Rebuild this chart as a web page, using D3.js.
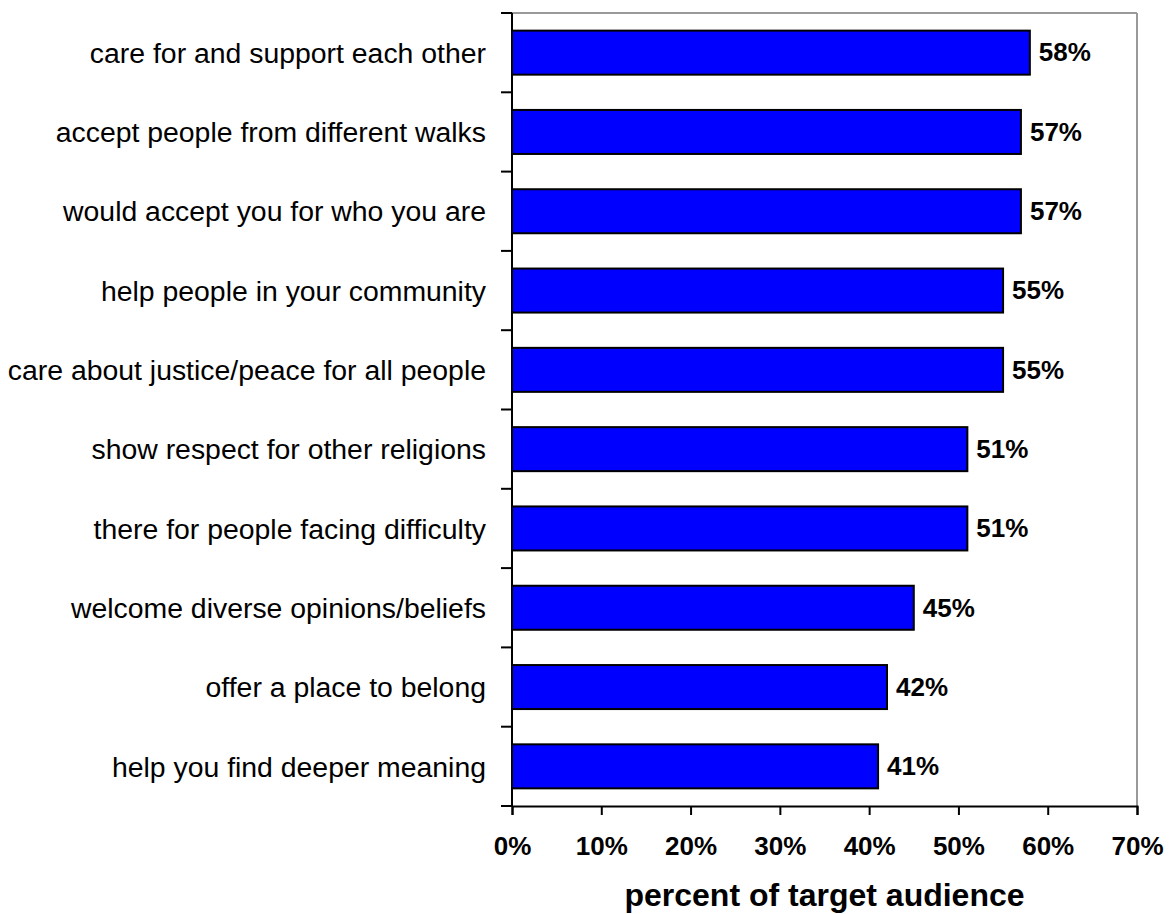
<!DOCTYPE html>
<html>
<head>
<meta charset="utf-8">
<script src="https://cdn.jsdelivr.net/npm/d3@7/dist/d3.min.js"></script>
<style>
  html, body { margin: 0; padding: 0; background: #fff; }
  svg { display: block; }
</style>
</head>
<body>
<svg id="chart" width="1172" height="914"></svg>
<script>
// Survey items, top to bottom
const categories = [
  "care for and support each other",
  "accept people from different walks",
  "would accept you for who you are",
  "help people in your community",
  "care about justice/peace for all people",
  "show respect for other religions",
  "there for people facing difficulty",
  "welcome diverse opinions/beliefs",
  "offer a place to belong",
  "help you find deeper meaning"
];
// Share of the target audience (percent)
const values = [58, 57, 57, 55, 55, 51, 51, 45, 42, 41];
const xTicks = [0, 10, 20, 30, 40, 50, 60, 70];
const axisTitle = "percent of target audience";

const FONT = "'Liberation Sans', Arial, sans-serif";
const svg = d3.select("#chart");
const plotL = 512, plotR = 1137, plotT = 13, plotB = 806;

const x = d3.scaleLinear().domain([0, 70]).range([plotL, plotR]);
const y = d3.scaleBand().domain(categories).range([plotT, plotB]).paddingInner(0.445).paddingOuter(0.2225);

// plot frame: grey top and right edges
svg.append("line").attr("x1", plotL).attr("x2", plotR).attr("y1", plotT).attr("y2", plotT)
  .attr("stroke", "#999").attr("stroke-width", 2);
svg.append("line").attr("x1", plotR).attr("x2", plotR).attr("y1", plotT).attr("y2", plotB)
  .attr("stroke", "#999").attr("stroke-width", 2);

// bars
svg.append("g").selectAll("rect").data(categories).join("rect")
  .attr("x", x(0))
  .attr("y", d => y(d))
  .attr("width", (d, i) => x(values[i]) - x(0))
  .attr("height", y.bandwidth())
  .attr("fill", "#0000ff")
  .attr("stroke", "#000")
  .attr("stroke-width", 2);

// value labels
svg.append("g").selectAll("text").data(categories).join("text")
  .attr("x", (d, i) => x(values[i]) + 9)
  .attr("y", d => y(d) + y.bandwidth() / 2)
  .attr("dy", "0.34em")
  .attr("font-family", FONT)
  .attr("font-weight", "bold")
  .attr("font-size", 26)
  .attr("fill", "#000")
  .text((d, i) => values[i] + "%");

// left axis: ticks at band boundaries
const boundaries = d3.range(categories.length + 1).map(i => plotT + i * (plotB - plotT) / categories.length);
const gy = svg.append("g");
gy.append("line").attr("x1", plotL).attr("x2", plotL).attr("y1", plotT).attr("y2", plotB)
  .attr("stroke", "#000").attr("stroke-width", 2);
gy.selectAll("line.tk").data(boundaries).join("line").attr("class", "tk")
  .attr("x1", plotL - 11).attr("x2", plotL).attr("y1", d => d).attr("y2", d => d)
  .attr("stroke", "#000").attr("stroke-width", 2);
gy.selectAll("text").data(categories).join("text")
  .attr("x", 486)
  .attr("y", d => y(d) + y.bandwidth() / 2)
  .attr("dy", "0.36em")
  .attr("text-anchor", "end")
  .attr("font-family", FONT)
  .attr("font-size", 28.4)
  .attr("fill", "#000")
  .text(d => d);

// bottom axis
const xAxis = d3.axisBottom(x).tickValues(xTicks).tickFormat(d => d + "%").tickSize(9).tickPadding(0);
const gx = svg.append("g").attr("transform", `translate(0,${plotB})`).call(xAxis);
gx.select(".domain").attr("stroke", "#000").attr("stroke-width", 2);
gx.selectAll(".tick line").attr("stroke", "#000").attr("stroke-width", 2);
gx.selectAll(".tick text")
  .attr("y", 49)
  .attr("dy", null)
  .attr("font-family", FONT)
  .attr("font-weight", "bold")
  .attr("font-size", 26)
  .attr("fill", "#000");

svg.append("text")
  .attr("x", (plotL + plotR) / 2)
  .attr("y", 906)
  .attr("text-anchor", "middle")
  .attr("font-family", FONT)
  .attr("font-weight", "bold")
  .attr("font-size", 32)
  .attr("fill", "#000")
  .text(axisTitle);
</script>
</body>
</html>
